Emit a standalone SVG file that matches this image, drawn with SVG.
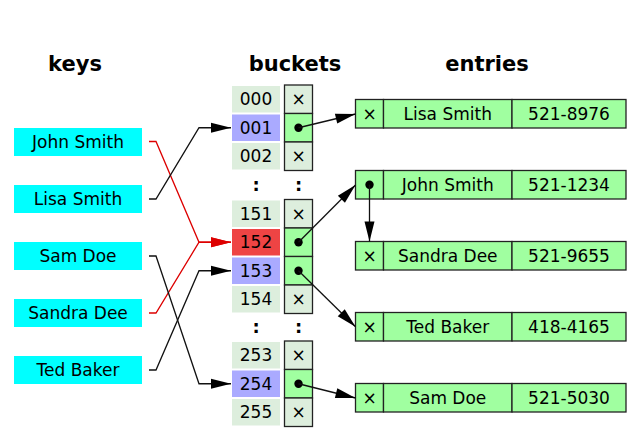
<svg xmlns="http://www.w3.org/2000/svg" width="640" height="441" viewBox="0 0 640 441">
<style>
text{font-family:"DejaVu Sans","Liberation Sans",sans-serif;font-size:17px;fill:#000;text-anchor:middle}
.h{font-size:21px;font-weight:bold}
.c{font-weight:bold;font-size:18px}
.key{fill:#00ffff}
.lab{fill:#ddeedd}
.sel{fill:#aaaaff}
.hot{fill:#ee4444}
.nil{fill:#ddeedd;stroke:#222;stroke-width:1.3}
.ptr{fill:#a0ffa0;stroke:#222;stroke-width:1.3}
.ent{fill:#a0ffa0;stroke:#222;stroke-width:1.3}
.ln{fill:none;stroke:#111;stroke-width:1.3}
.rd{fill:none;stroke:#dd0000;stroke-width:1.3}
</style>
<defs>
<marker id="ah" markerUnits="userSpaceOnUse" markerWidth="20" markerHeight="10" refX="20" refY="5" orient="auto" overflow="visible"><path d="M0,0 L20,5 L0,10 z" fill="#000"/></marker>
<marker id="ahr" markerUnits="userSpaceOnUse" markerWidth="20" markerHeight="10" refX="20" refY="5" orient="auto" overflow="visible"><path d="M0,0 L20,5 L0,10 z" fill="#dd0000"/></marker>
</defs>
<rect width="640" height="441" fill="#fff"/>
<g id="headers">
<text class="h" x="75" y="71">keys</text>
<text class="h" x="295" y="71">buckets</text>
<text class="h" x="487" y="71">entries</text>
</g>
<g id="key-john"><rect class="key" x="14" y="128" width="128" height="28"/><text x="78" y="148.3">John Smith</text></g>
<g id="key-lisa"><rect class="key" x="14" y="185" width="128" height="28"/><text x="78" y="205.3">Lisa Smith</text></g>
<g id="key-sam"><rect class="key" x="14" y="242" width="128" height="28"/><text x="78" y="262.3">Sam Doe</text></g>
<g id="key-sandra"><rect class="key" x="14" y="299" width="128" height="28"/><text x="78" y="319.3">Sandra Dee</text></g>
<g id="key-ted"><rect class="key" x="14" y="356" width="128" height="28"/><text x="78" y="376.3">Ted Baker</text></g>

<g id="bucket-000"><rect class="lab" x="232" y="86" width="48" height="26.5"/><text x="256" y="105.3">000</text><rect class="nil" x="284.5" y="85" width="28" height="28.5"/><text x="298.5" y="105">×</text></g>
<g id="bucket-001"><rect class="sel" x="232" y="114.5" width="48" height="26.5"/><text x="256" y="133.8">001</text><rect class="ptr" x="284.5" y="113.5" width="28" height="28.5"/><circle cx="298.5" cy="127.75" r="4.2"/></g>
<g id="bucket-002"><rect class="lab" x="232" y="143" width="48" height="26.5"/><text x="256" y="162.3">002</text><rect class="nil" x="284.5" y="142" width="28" height="28.5"/><text x="298.5" y="162">×</text></g>
<g id="dots-1"><text class="c" x="256" y="191">:</text><text class="c" x="298.5" y="191">:</text></g>
<g id="bucket-151"><rect class="lab" x="232" y="200.5" width="48" height="26.5"/><text x="256" y="219.8">151</text><rect class="nil" x="284.5" y="199.5" width="28" height="28.5"/><text x="298.5" y="219.5">×</text></g>
<g id="bucket-152"><rect class="hot" x="232" y="229" width="48" height="26.5"/><text x="256" y="248.3">152</text><rect class="ptr" x="284.5" y="228" width="28" height="28.5"/><circle cx="298.5" cy="242.25" r="4.2"/></g>
<g id="bucket-153"><rect class="sel" x="232" y="257.5" width="48" height="26.5"/><text x="256" y="276.8">153</text><rect class="ptr" x="284.5" y="256.5" width="28" height="28.5"/><circle cx="298.5" cy="270.75" r="4.2"/></g>
<g id="bucket-154"><rect class="lab" x="232" y="286" width="48" height="26.5"/><text x="256" y="305.3">154</text><rect class="nil" x="284.5" y="285" width="28" height="28.5"/><text x="298.5" y="305">×</text></g>
<g id="dots-2"><text class="c" x="256" y="333">:</text><text class="c" x="298.5" y="333">:</text></g>
<g id="bucket-253"><rect class="lab" x="232" y="342" width="48" height="26.5"/><text x="256" y="361.3">253</text><rect class="nil" x="284.5" y="341" width="28" height="28.5"/><text x="298.5" y="361">×</text></g>
<g id="bucket-254"><rect class="sel" x="232" y="370.5" width="48" height="26.5"/><text x="256" y="389.8">254</text><rect class="ptr" x="284.5" y="369.5" width="28" height="28.5"/><circle cx="298.5" cy="383.75" r="4.2"/></g>
<g id="bucket-255"><rect class="lab" x="232" y="399" width="48" height="26.5"/><text x="256" y="418.3">255</text><rect class="nil" x="284.5" y="398" width="28" height="28.5"/><text x="298.5" y="418">×</text></g>

<g id="entry-lisa"><rect class="ent" x="355.5" y="99.5" width="28" height="28.5"/><rect class="ent" x="383.5" y="99.5" width="128.5" height="28.5"/><rect class="ent" x="512" y="99.5" width="114" height="28.5"/><text x="369.5" y="119.5">×</text><text x="447.75" y="119.8">Lisa Smith</text><text x="569" y="119.8">521-8976</text></g>
<g id="entry-john"><rect class="ent" x="355.5" y="170.5" width="28" height="28.5"/><rect class="ent" x="383.5" y="170.5" width="128.5" height="28.5"/><rect class="ent" x="512" y="170.5" width="114" height="28.5"/><circle cx="369.5" cy="184.75" r="4.2"/><text x="447.75" y="190.8">John Smith</text><text x="569" y="190.8">521-1234</text></g>
<g id="entry-sandra"><rect class="ent" x="355.5" y="241.5" width="28" height="28.5"/><rect class="ent" x="383.5" y="241.5" width="128.5" height="28.5"/><rect class="ent" x="512" y="241.5" width="114" height="28.5"/><text x="369.5" y="261.5">×</text><text x="447.75" y="261.8">Sandra Dee</text><text x="569" y="261.8">521-9655</text></g>
<g id="entry-ted"><rect class="ent" x="355.5" y="312.5" width="28" height="28.5"/><rect class="ent" x="383.5" y="312.5" width="128.5" height="28.5"/><rect class="ent" x="512" y="312.5" width="114" height="28.5"/><text x="369.5" y="332.5">×</text><text x="447.75" y="332.8">Ted Baker</text><text x="569" y="332.8">418-4165</text></g>
<g id="entry-sam"><rect class="ent" x="355.5" y="383.5" width="28" height="28.5"/><rect class="ent" x="383.5" y="383.5" width="128.5" height="28.5"/><rect class="ent" x="512" y="383.5" width="114" height="28.5"/><text x="369.5" y="403.5">×</text><text x="447.75" y="403.8">Sam Doe</text><text x="569" y="403.8">521-5030</text></g>

<g id="connectors">
<path class="rd" d="M149,141.5 H156 L199,242.25 H231" marker-end="url(#ahr)"/>
<path class="rd" d="M149,313 H156 L199,242.25 H231" marker-end="url(#ahr)"/>
<path class="ln" d="M149,199 H156 L199,127.75 H231" marker-end="url(#ah)"/>
<path class="ln" d="M149,256 H156 L199,383.75 H231" marker-end="url(#ah)"/>
<path class="ln" d="M149,370 H156 L199,270.75 H231" marker-end="url(#ah)"/>
<path class="ln" d="M298.5,127.75 L355.5,114" marker-end="url(#ah)"/>
<path class="ln" d="M298.5,242.25 L355.5,185" marker-end="url(#ah)"/>
<path class="ln" d="M298.5,270.75 L355.5,326.75" marker-end="url(#ah)"/>
<path class="ln" d="M298.5,383.75 L355.5,398" marker-end="url(#ah)"/>
<path class="ln" d="M369.5,184.75 V241.5" marker-end="url(#ah)"/>
</g>
</svg>
